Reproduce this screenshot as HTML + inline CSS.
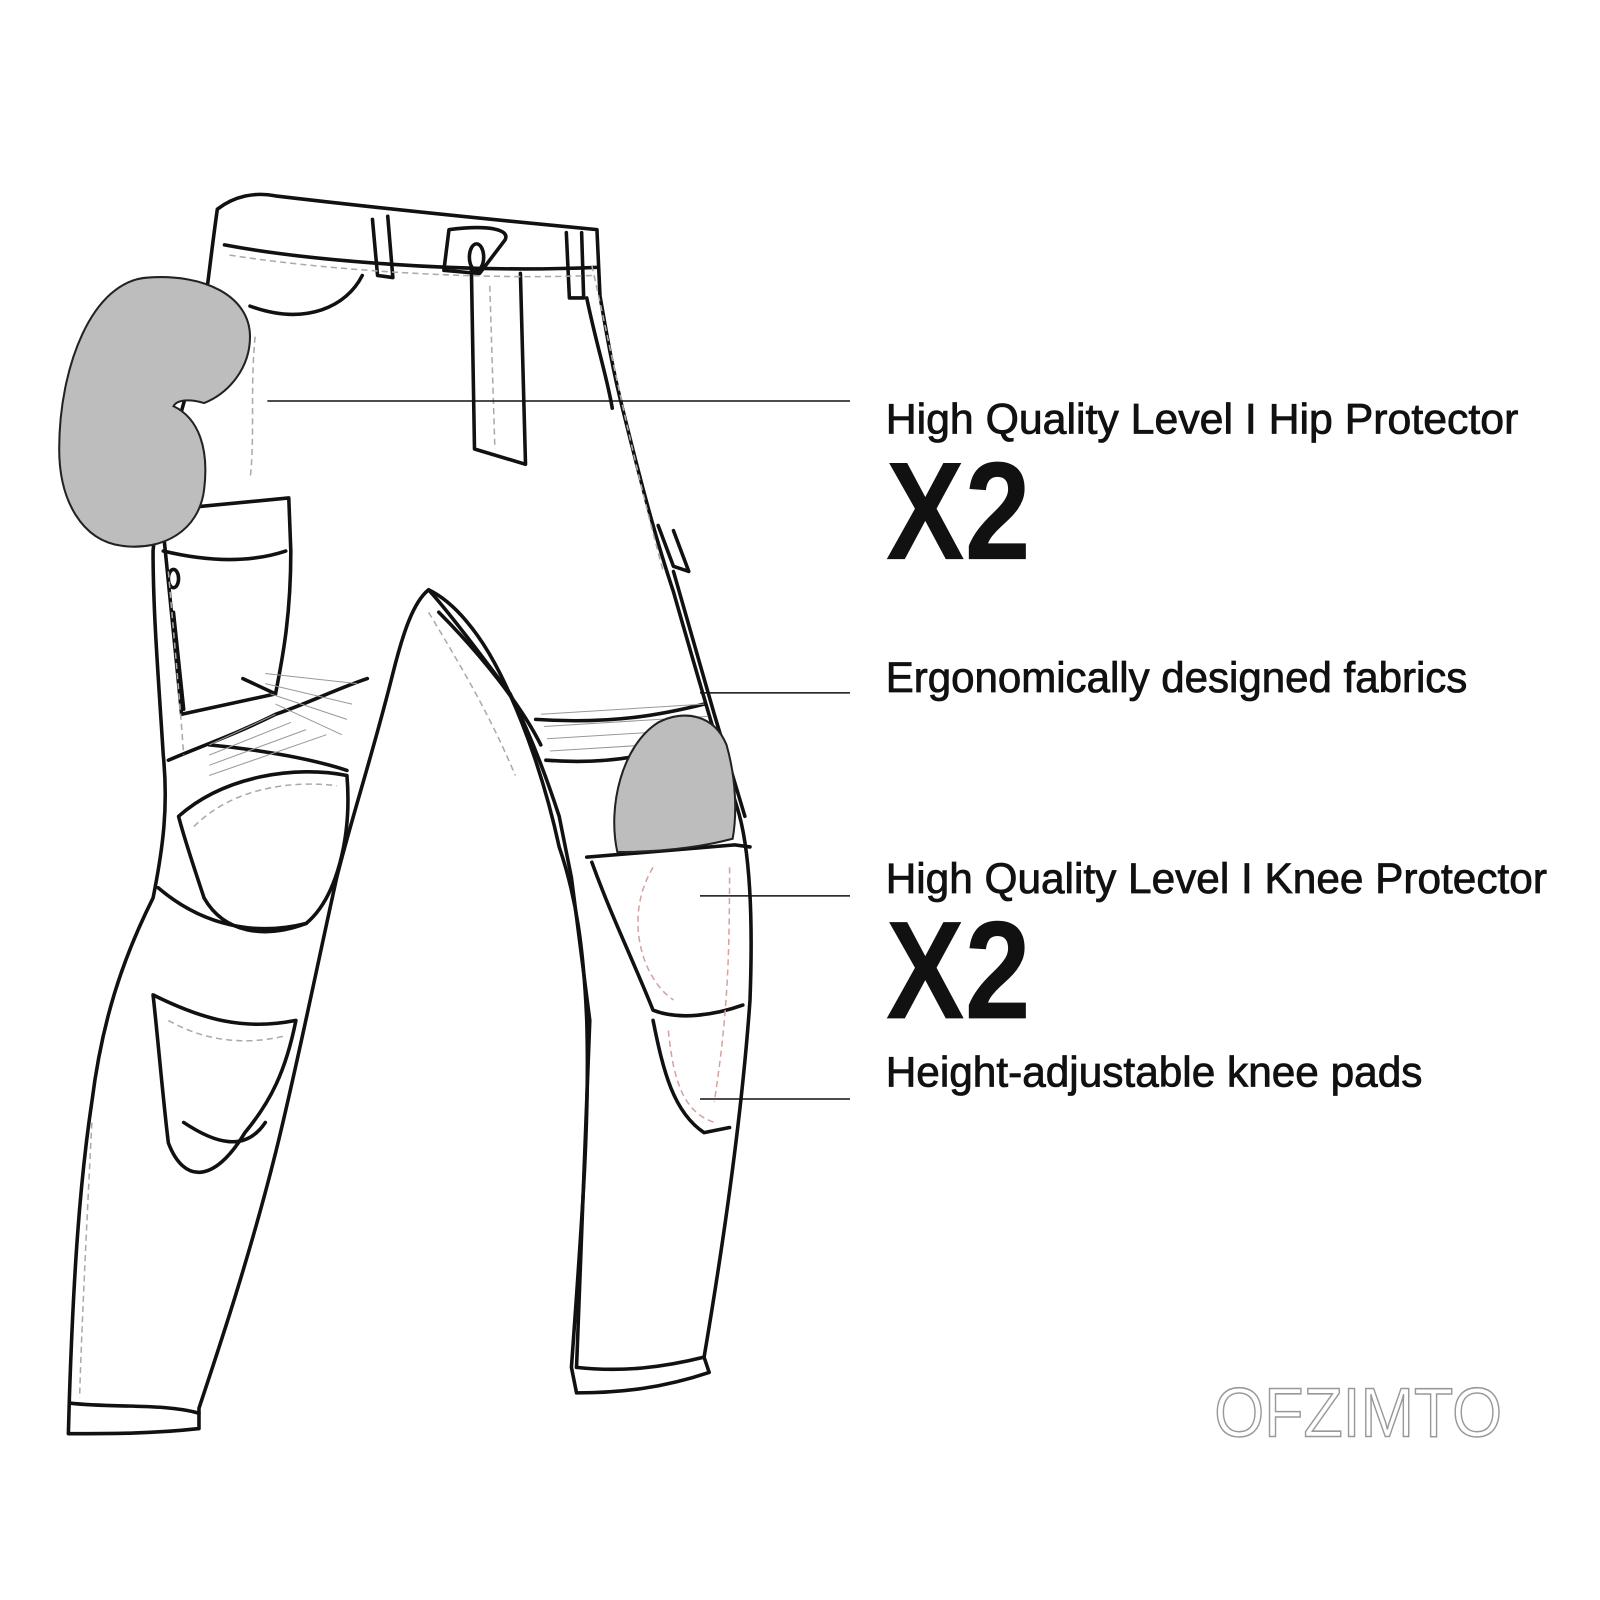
<!DOCTYPE html>
<html><head><style>html,body{margin:0;padding:0;background:#fff}svg{display:block}</style></head>
<body>
<svg width="1600" height="1600" viewBox="0 0 1568 1568" xmlns="http://www.w3.org/2000/svg">
<rect width="1568" height="1568" fill="#fff"/>
<g fill="none" stroke="#111" stroke-width="3.5" stroke-linejoin="round" stroke-linecap="round">
<path d="M213,205 C230,192 250,188 270,192 C380,205 480,215 585,225 L588,290 C595,330 600,360 610,400 C625,460 640,520 660,580 C680,650 700,720 722,790 C735,830 738,900 735,980 C728,1080 712,1200 690,1330 L695,1345 C650,1360 610,1365 565,1365 L560,1340 C570,1200 578,1100 575,1000 C572,930 565,880 548,830 C535,770 515,710 490,660 C470,620 445,590 420,578 C405,590 395,620 385,660 C365,740 345,800 330,860 C310,950 290,1050 270,1130 C245,1230 215,1320 195,1380 L195,1400 C150,1405 110,1405 67,1405 L68,1370 C72,1250 78,1160 90,1080 C100,1000 120,940 150,880 C160,830 165,790 160,740 C155,660 150,600 150,540 C155,480 170,430 190,360 C200,320 205,260 213,205 Z"/>
<path d="M220,240 C300,255 450,268 585,262"/>
<path d="M365,215 L370,270 L385,272 L380,212"/>
<path d="M440,225 L435,265 L470,268 L495,235 C500,225 480,220 440,225 Z"/>
<path d="M555,228 L558,292 L572,292 L570,228"/>
<ellipse cx="467" cy="252" rx="7" ry="13"/>
<path d="M462,265 L465,440 L515,455 L510,268"/>
<path d="M245,300 C300,320 340,300 355,270"/>
<path d="M575,292 C585,340 595,370 600,400"/>
<path d="M158,500 L283,488 L285,540 C285,600 278,640 270,680 L178,700 L158,500"/>
<path d="M160,540 C210,552 250,550 280,540"/>
<ellipse cx="170" cy="567" rx="5" ry="9"/>
<path d="M238,665 L270,680"/>
<path d="M170,600 L180,695"/>
<path d="M165,745 C200,730 230,720 270,700 C300,690 330,675 360,665"/>
<path d="M205,730 C260,735 310,745 340,755"/>
<path d="M175,800 C220,760 290,750 340,760 C345,820 330,880 300,905 C260,920 220,915 200,880 C190,850 180,820 175,800 Z"/>
<path d="M155,870 C190,900 240,920 300,905"/>
<path d="M150,975 C200,1000 240,1010 290,1000 C280,1050 265,1080 240,1110 C210,1160 180,1160 165,1120 C160,1080 155,1020 150,975 Z"/>
<path d="M180,1100 C210,1120 240,1130 260,1100"/>
<path d="M68,1375 C110,1380 160,1375 195,1385"/>
<path d="M420,578 C440,600 470,640 500,680 C520,720 535,760 548,800 L560,860 L578,1000 L565,1340"/>
<path d="M430,600 C470,640 510,690 530,730"/>
<path d="M525,705 C600,710 650,700 690,690"/>
<path d="M535,745 C600,750 640,740 700,720"/>
<path d="M575,840 L720,828 L735,830"/>
<path d="M580,845 C600,900 620,940 640,990 C665,1000 700,995 728,985"/>
<path d="M640,1000 C650,1050 660,1090 690,1110 L715,1105"/>
<path d="M565,1340 C610,1345 650,1340 690,1330"/>
<path d="M645,515 L660,555 L675,560 L660,520"/>
<path d="M660,560 L700,700 L730,800"/>
</g>
<g stroke="#999" stroke-width="1">
<path d="M205,730 L270,700 M205,740 L285,708 M205,750 L300,715 M205,760 L320,720 M260,660 L350,670 M260,670 L345,690 M265,680 L340,705 M270,690 L335,720"/>
<path d="M530,700 L690,690 M533,712 L694,702 M536,724 L698,714 M539,736 L700,726"/>
</g>
<g fill="none" stroke="#aaa" stroke-width="1.5" stroke-dasharray="6,4">
<path d="M225,250 C300,262 450,275 580,270"/>
<path d="M480,280 L485,440"/>
<path d="M250,330 C245,380 250,430 245,470"/>
<path d="M165,560 C170,620 175,670 180,740"/>
<path d="M190,810 C230,770 290,765 330,770"/>
<path d="M165,1000 C200,1020 240,1025 280,1015"/>
<path d="M90,1100 C85,1200 80,1300 78,1370"/>
<path d="M580,260 C600,350 620,450 650,560"/>
<path d="M420,600 C450,650 480,700 505,760"/>
</g>
<g fill="none" stroke="#d9a0a0" stroke-width="1.5" stroke-dasharray="6,4">
<path d="M640,850 C610,900 630,960 660,980"/>
<path d="M655,1010 C660,1060 670,1090 700,1100"/>
<path d="M715,850 C715,950 712,1000 700,1080"/>
</g>
<path d="M145,272 C200,268 245,290 245,330 C245,360 225,385 200,395 C190,392 175,390 170,398 C195,410 205,440 200,480 C195,520 160,540 120,535 C80,530 58,490 58,440 C58,360 90,275 145,272 Z" fill="#bdbdbd" stroke="#222" stroke-width="2"/>
<path d="M605,835 C595,790 610,730 645,708 C670,695 700,700 712,730 C722,765 722,800 718,822 C680,832 640,835 605,835 Z" fill="#bdbdbd" stroke="#222" stroke-width="2"/>
<g stroke="#111" stroke-width="1.5">
<line x1="262" y1="393" x2="833" y2="393"/>
<line x1="686" y1="679" x2="833" y2="679"/>
<line x1="686" y1="878" x2="833" y2="878"/>
<line x1="686" y1="1077" x2="833" y2="1077"/>
</g>
<g font-family="'Liberation Sans', sans-serif" fill="#111">
<g stroke="#111" stroke-width="0.8">
<text x="868" y="425" font-size="42" textLength="620" lengthAdjust="spacingAndGlyphs">High Quality Level  I  Hip Protector</text>
<text x="868" y="678" font-size="42" textLength="570" lengthAdjust="spacingAndGlyphs">Ergonomically designed fabrics</text>
<text x="868" y="875" font-size="42" textLength="648" lengthAdjust="spacingAndGlyphs">High Quality Level  I  Knee Protector</text>
<text x="868" y="1065" font-size="42" textLength="526" lengthAdjust="spacingAndGlyphs">Height-adjustable knee pads</text>
</g>
<text x="868" y="548" font-size="137" font-weight="bold" textLength="142" lengthAdjust="spacingAndGlyphs">X2</text>
<text x="868" y="998" font-size="137" font-weight="bold" textLength="142" lengthAdjust="spacingAndGlyphs">X2</text>
<text x="1190" y="1408" font-size="68" fill="none" stroke="#999" stroke-width="1.5" textLength="282" lengthAdjust="spacingAndGlyphs">OFZIMTO</text>
</g>
</svg>
</body></html>
